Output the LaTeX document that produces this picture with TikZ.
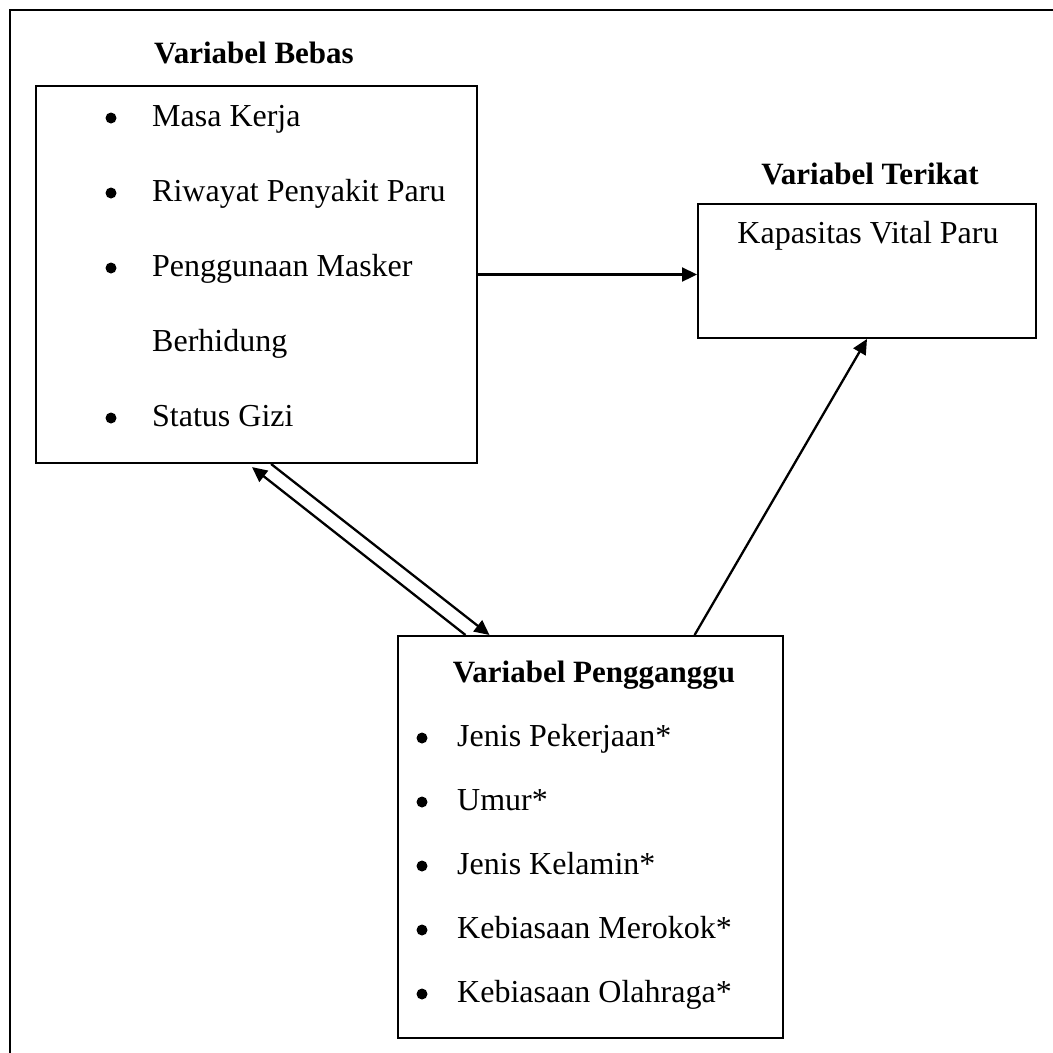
\documentclass[tikz,border=0pt]{standalone}
\usepackage{fontspec}
\setmainfont{Liberation Serif}
\usetikzlibrary{arrows.meta,calc}
\begin{document}
\begin{tikzpicture}[x=1pt,y=-1pt,
  box/.style={draw,line width=2pt,inner sep=0pt,anchor=north west},
  txt/.style={font=\fontsize{32}{38}\selectfont,inner sep=0pt,anchor=base west},
  ttl/.style={font=\fontsize{31}{37}\selectfont\bfseries,inner sep=0pt,anchor=base},
  dot/.style={circle,fill,inner sep=0pt,minimum size=11pt},
  arr/.style={line width=2.3pt,-{Triangle[length=15pt,width=14pt]}}]
\useasboundingbox (0,0) rectangle (1053,1053);
\draw[line width=2.8pt] (1060,10) -- (10,10) -- (10,1060);
% boxes
\node[box,minimum width=441pt,minimum height=377pt] (bebas) at (35,85) {};
\node[box,minimum width=338pt,minimum height=134pt] (terikat) at (697,203) {};
\node[box,minimum width=385pt,minimum height=402pt] (peng) at (397,635) {};
% titles
\node[ttl] (tbebas) at (254,63) {Variabel Bebas};
\node[ttl] (tterikat) at (870,184) {Variabel Terikat};
\node[ttl] (tpeng) at (594,682) {Variabel Pengganggu};
\node[txt,anchor=base] (kvp) at (868,243) {Kapasitas Vital Paru};
% bebas items
\node[dot] (d1) at (111,118) {};
\node[txt] (i1) at (152,126) {Masa Kerja};
\node[dot] (d2) at (111,193) {};
\node[txt] (i2) at (152,201) {Riwayat Penyakit Paru};
\node[dot] (d3) at (111,268) {};
\node[txt] (i3) at (152,276) {Penggunaan Masker};
\node[txt] (i3b) at (152,351) {Berhidung};
\node[dot] (d4) at (111,418) {};
\node[txt] (i4) at (152,426) {Status Gizi};
% pengganggu items
\node[dot] (p1) at (422,738) {};
\node[txt] (j1) at (457,746) {Jenis Pekerjaan*};
\node[dot] (p2) at (422,802) {};
\node[txt] (j2) at (457,810) {Umur*};
\node[dot] (p3) at (422,866) {};
\node[txt] (j3) at (457,874) {Jenis Kelamin*};
\node[dot] (p4) at (422,930) {};
\node[txt] (j4) at (457,938) {Kebiasaan Merokok*};
\node[dot] (p5) at (422,994) {};
\node[txt] (j5) at (457,1002) {Kebiasaan Olahraga*};
% connectors
\draw[arr] (bebas.east) -- (bebas.east -| terikat.west);
\draw[arr] ($(peng.north west)!0.769!(peng.north east)$) -- (terikat.south);
\draw[arr] ($(bebas.south west)!0.533!(bebas.south east)$) -- ($(peng.north west)!0.239!(peng.north east)$);
\draw[arr,shorten >=5pt] ($(peng.north west)!0.177!(peng.north east)$) -- ($(bebas.south west)!0.481!(bebas.south east)$);
\end{tikzpicture}
\end{document}
